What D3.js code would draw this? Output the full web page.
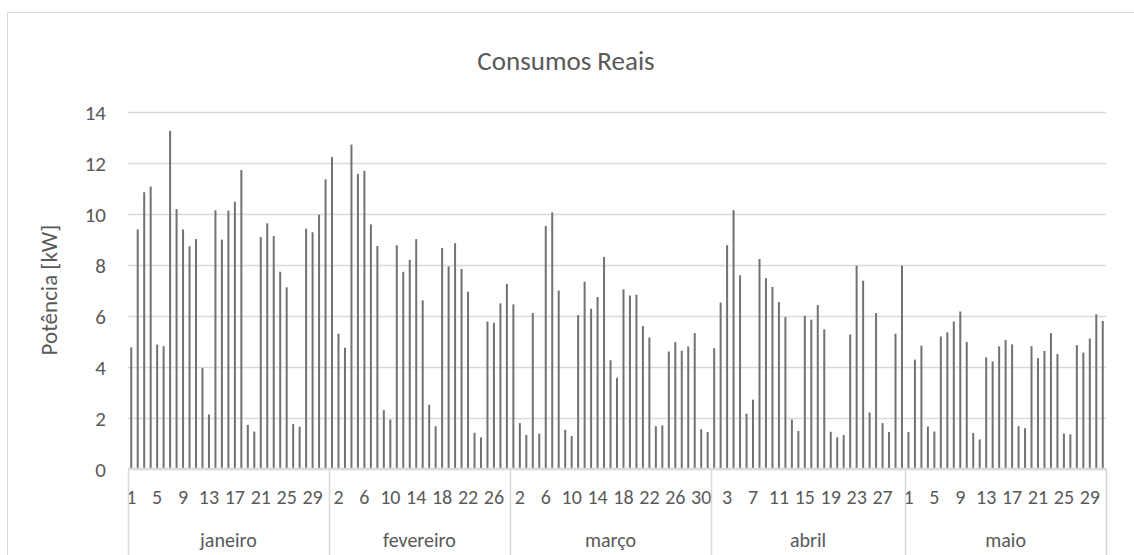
<!DOCTYPE html>
<html>
<head>
<meta charset="utf-8">
<script src="https://cdn.jsdelivr.net/npm/d3@7"></script>
<style>
body { margin: 0; background: #fff; }
text { font-family: Calibri, Carlito, "Liberation Sans", sans-serif; fill: #595959; }
</style>
</head>
<body>
<svg width="1134" height="555"></svg>
<script>
var months = ['janeiro', 'fevereiro', 'março', 'abril', 'maio'];

var janeiro = [4.75, 9.38, 10.84, 11.06, 4.86, 4.80, 13.25, 10.18, 9.38, 8.72, 9.0, 3.94, 2.12, 10.13, 8.98, 10.12,
    10.47, 11.71, 1.71, 1.45, 9.08, 9.62, 9.12, 7.72, 7.11, 1.74, 1.64, 9.41, 9.27, 9.96, 11.35];
var fevereiro = [12.22, 5.29, 4.74, 12.71, 11.56, 11.68, 9.58, 8.73, 2.29, 1.92, 8.76, 7.72, 8.19, 9.0, 6.60, 2.50,
    1.66, 8.65, 7.93, 8.84, 7.83, 6.94, 1.40, 1.22, 5.77, 5.72, 6.48, 7.24];
var marco = [6.44, 1.78, 1.32, 6.10, 1.37, 9.52, 10.05, 6.98, 1.52, 1.27, 6.02, 7.33, 6.27, 6.73, 8.30, 4.25,
    3.56, 7.03, 6.79, 6.82, 5.59, 5.14, 1.66, 1.69, 4.59, 4.96, 4.62, 4.79, 5.31, 1.54, 1.43];
var abril = [4.72, 6.51, 8.76, 10.14, 7.58, 2.15, 2.70, 8.22, 7.47, 7.12, 6.53, 5.94, 1.92, 1.47, 5.99, 5.84,
    6.41, 5.46, 1.44, 1.22, 1.31, 5.26, 7.96, 7.37, 2.20, 6.10, 1.78, 1.43, 5.29, 7.96];
var maio = [1.43, 4.27, 4.82, 1.65, 1.45, 5.18, 5.34, 5.77, 6.16, 4.96, 1.39, 1.14, 4.36, 4.20, 4.79, 5.04,
    4.87, 1.66, 1.58, 4.80, 4.33, 4.61, 5.31, 4.49, 1.37, 1.34, 4.84, 4.55, 5.10, 6.05, 5.79];

var yTicks = [0, 2, 4, 6, 8, 10, 12, 14];

var series = [janeiro, fevereiro, marco, abril, maio];

// flatten into one list of days
var data = [];
var groups = [];
series.forEach(function(arr, m) {
    var start = data.length;
    arr.forEach(function(v, i) {
        data.push({ key: m + '-' + (i + 1), day: i + 1, month: m, value: v });
    });
    groups.push({ name: months[m], start: start, end: data.length });
});

var svg = d3.select('svg');

var plotLeft = 128, plotRight = 1106, plotTop = 111.7, plotBottom = 468.5;

// chart border
svg.append('rect')
    .attr('x', 7.5).attr('y', 12.5)
    .attr('width', 1140).attr('height', 560)
    .attr('fill', 'none')
    .attr('stroke', '#d9d9d9');

var x = d3.scaleBand()
    .domain(data.map(function(d) { return d.key; }))
    .range([plotLeft, plotRight])
    .paddingInner(0.69)
    .paddingOuter(0.345);

var y = d3.scaleLinear()
    .domain([0, 14])
    .range([plotBottom, plotTop]);

// gridlines
svg.append('g')
    .selectAll('line')
    .data(yTicks)
    .enter()
    .append('line')
    .attr('x1', plotLeft)
    .attr('x2', plotRight)
    .attr('y1', function(d) { return Math.round(y(d)) + 0.5; })
    .attr('y2', function(d) { return Math.round(y(d)) + 0.5; })
    .attr('stroke', '#d9d9d9')
    .attr('stroke-width', 1.5);

// y axis labels
var yAxis = d3.axisLeft(y).tickValues(yTicks).tickSize(0).tickPadding(0);
var gy = svg.append('g')
    .attr('transform', 'translate(106,1)')
    .call(yAxis);
gy.select('.domain').remove();
gy.selectAll('text')
    .style('font-size', '21px')
    .attr('fill', '#595959');

// bars
svg.append('g')
    .selectAll('rect')
    .data(data)
    .enter()
    .append('rect')
    .attr('x', function(d) { return x(d.key); })
    .attr('y', function(d) { return y(d.value); })
    .attr('width', x.bandwidth())
    .attr('height', function(d) { return y(0) - y(d.value); })
    .attr('fill', '#767171');

// day labels
var step = x.step();
var xAxis = d3.axisBottom(x)
    .tickValues(data.filter(function(d, i) { return i % 4 === 0; }).map(function(d) { return d.key; }))
    .tickFormat(function(k) { return k.split('-')[1]; })
    .tickSize(0)
    .tickPadding(0);
var gx = svg.append('g')
    .attr('transform', 'translate(0,' + (plotBottom + 21) + ')')
    .call(xAxis);
gx.select('.domain').remove();
gx.selectAll('text')
    .style('font-size', '20px')
    .attr('fill', '#595959');

// axis line
svg.append('line')
    .attr('x1', plotLeft).attr('x2', plotRight)
    .attr('y1', plotBottom).attr('y2', plotBottom)
    .attr('stroke', '#d9d9d9')
    .attr('stroke-width', 1.5);

// group separators
var bounds = [0].concat(groups.map(function(g) { return g.end; }));
svg.append('g')
    .selectAll('line')
    .data(bounds)
    .enter()
    .append('line')
    .attr('x1', function(d) { return Math.round(plotLeft + d * step) + 0.5; })
    .attr('x2', function(d) { return Math.round(plotLeft + d * step) + 0.5; })
    .attr('y1', plotBottom)
    .attr('y2', 555)
    .attr('stroke', '#d9d9d9')
    .attr('stroke-width', 1.5);

// month labels
svg.append('g')
    .selectAll('text')
    .data(groups)
    .enter()
    .append('text')
    .attr('x', function(g) { return plotLeft + (g.start + g.end) / 2 * step; })
    .attr('y', 547)
    .attr('text-anchor', 'middle')
    .style('font-size', '20px')
    .text(function(g) { return g.name; });

// title
svg.append('text')
    .attr('x', 566)
    .attr('y', 70)
    .attr('text-anchor', 'middle')
    .style('font-size', '27px')
    .text('Consumos Reais');

// y axis title
svg.append('text')
    .attr('transform', 'translate(57,290) rotate(-90)')
    .attr('text-anchor', 'middle')
    .style('font-size', '23px')
    .text('Potência [kW]');
</script>
</body>
</html>
